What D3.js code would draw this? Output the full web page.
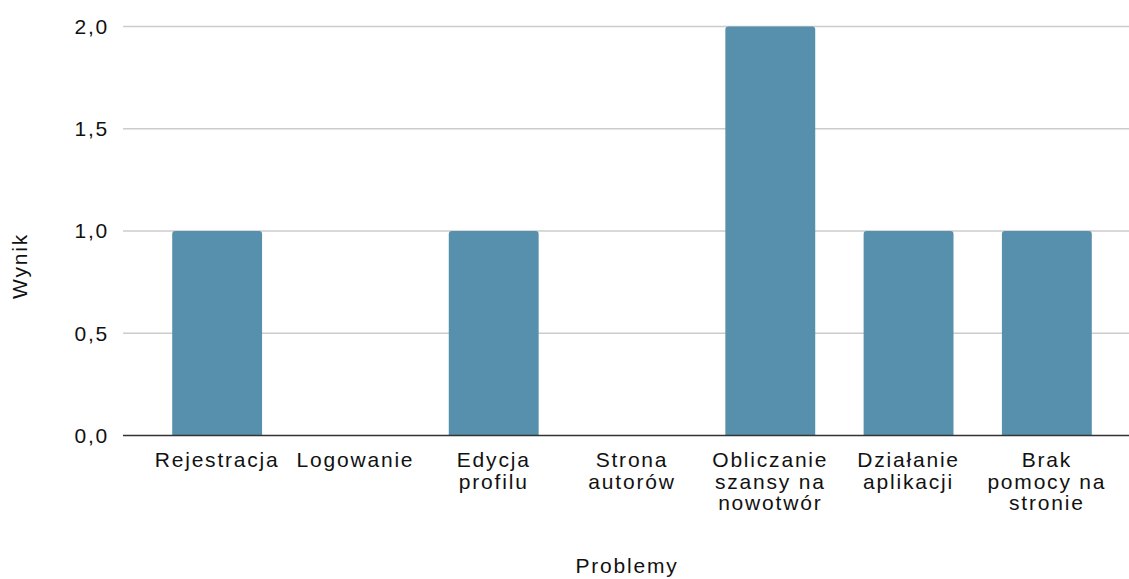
<!DOCTYPE html>
<meta charset="utf-8">
<html>
<head>
<style>
  body { margin: 0; background: #fff; }
  svg text { font-family: "Liberation Sans", Arial, sans-serif; font-size: 21px; fill: #111; letter-spacing: 1.8px; }
</style>
</head>
<body>
<script src="https://d3js.org/d3.v7.min.js"></script>
<script>
// chart data
var categories = ["Rejestracja", "Logowanie", "Edycja profilu", "Strona autorów",
                  "Obliczanie szansy na nowotwór", "Działanie aplikacji", "Brak pomocy na stronie"];
var labelLines = [["Rejestracja"], ["Logowanie"], ["Edycja", "profilu"], ["Strona", "autorów"],
                  ["Obliczanie", "szansy na", "nowotwór"], ["Działanie", "aplikacji"], ["Brak", "pomocy na", "stronie"]];
var values = [1, 0, 1, 0, 2, 1, 1];
var yTicks = [0, 0.5, 1, 1.5, 2];
var yTickLabels = ["0,0", "0,5", "1,0", "1,5", "2,0"];

var W = 1129, H = 579;
var plotLeft = 123, plotRight = 1129, plotTop = 26.5, plotBottom = 435.5;

var svg = d3.select("body").append("svg")
    .attr("width", W)
    .attr("height", H);

var x = d3.scaleBand()
    .domain(categories)
    .range([148, 1116])
    .paddingInner(0.35)
    .paddingOuter(0.175);

var y = d3.scaleLinear()
    .domain([0, 2])
    .range([plotBottom, plotTop]);

// gridlines
svg.append("g")
  .selectAll("line")
  .data(yTicks.slice(1))
  .enter().append("line")
    .attr("x1", plotLeft)
    .attr("x2", plotRight)
    .attr("y1", function(d) { return y(d); })
    .attr("y2", function(d) { return y(d); })
    .attr("stroke", "#cccccc")
    .attr("stroke-width", 1.5);

// y tick labels
svg.append("g")
  .selectAll("text")
  .data(yTicks)
  .enter().append("text")
    .attr("x", 109)
    .attr("y", function(d) { return y(d); })
    .attr("dy", "0.35em")
    .attr("text-anchor", "end")
    .text(function(d, i) { return yTickLabels[i]; });

// bars with rounded tops
var r = 3;
svg.append("g")
  .selectAll("path")
  .data(values)
  .enter().append("path")
    .attr("fill", "#5790ac")
    .attr("d", function(d, i) {
      if (d <= 0) return "";
      var x0 = x(categories[i]), w = x.bandwidth();
      var y0 = y(0), y1 = y(d);
      return "M" + x0 + "," + y0 +
             "V" + (y1 + r) +
             "Q" + x0 + "," + y1 + " " + (x0 + r) + "," + y1 +
             "H" + (x0 + w - r) +
             "Q" + (x0 + w) + "," + y1 + " " + (x0 + w) + "," + (y1 + r) +
             "V" + y0 + "Z";
    });

// zero baseline
svg.append("line")
    .attr("x1", plotLeft)
    .attr("x2", plotRight)
    .attr("y1", y(0))
    .attr("y2", y(0))
    .attr("stroke", "#333")
    .attr("stroke-width", 1.6);

// category labels
var lab = svg.append("g")
  .selectAll("text")
  .data(categories)
  .enter().append("text")
    .attr("text-anchor", "middle")
    .attr("transform", function(d) {
      return "translate(" + (x(d) + x.bandwidth() / 2) + ",467)";
    });
lab.selectAll("tspan")
  .data(function(d, i) { return labelLines[i]; })
  .enter().append("tspan")
    .attr("x", 0)
    .attr("y", function(d, j) { return j * 21.5; })
    .text(function(d) { return d; });

// axis titles
svg.append("text")
    .attr("x", 627)
    .attr("y", 573)
    .attr("text-anchor", "middle")
    .text("Problemy");

svg.append("text")
    .attr("transform", "translate(27,266) rotate(-90)")
    .attr("text-anchor", "middle")
    .text("Wynik");
</script>
</body>
</html>
